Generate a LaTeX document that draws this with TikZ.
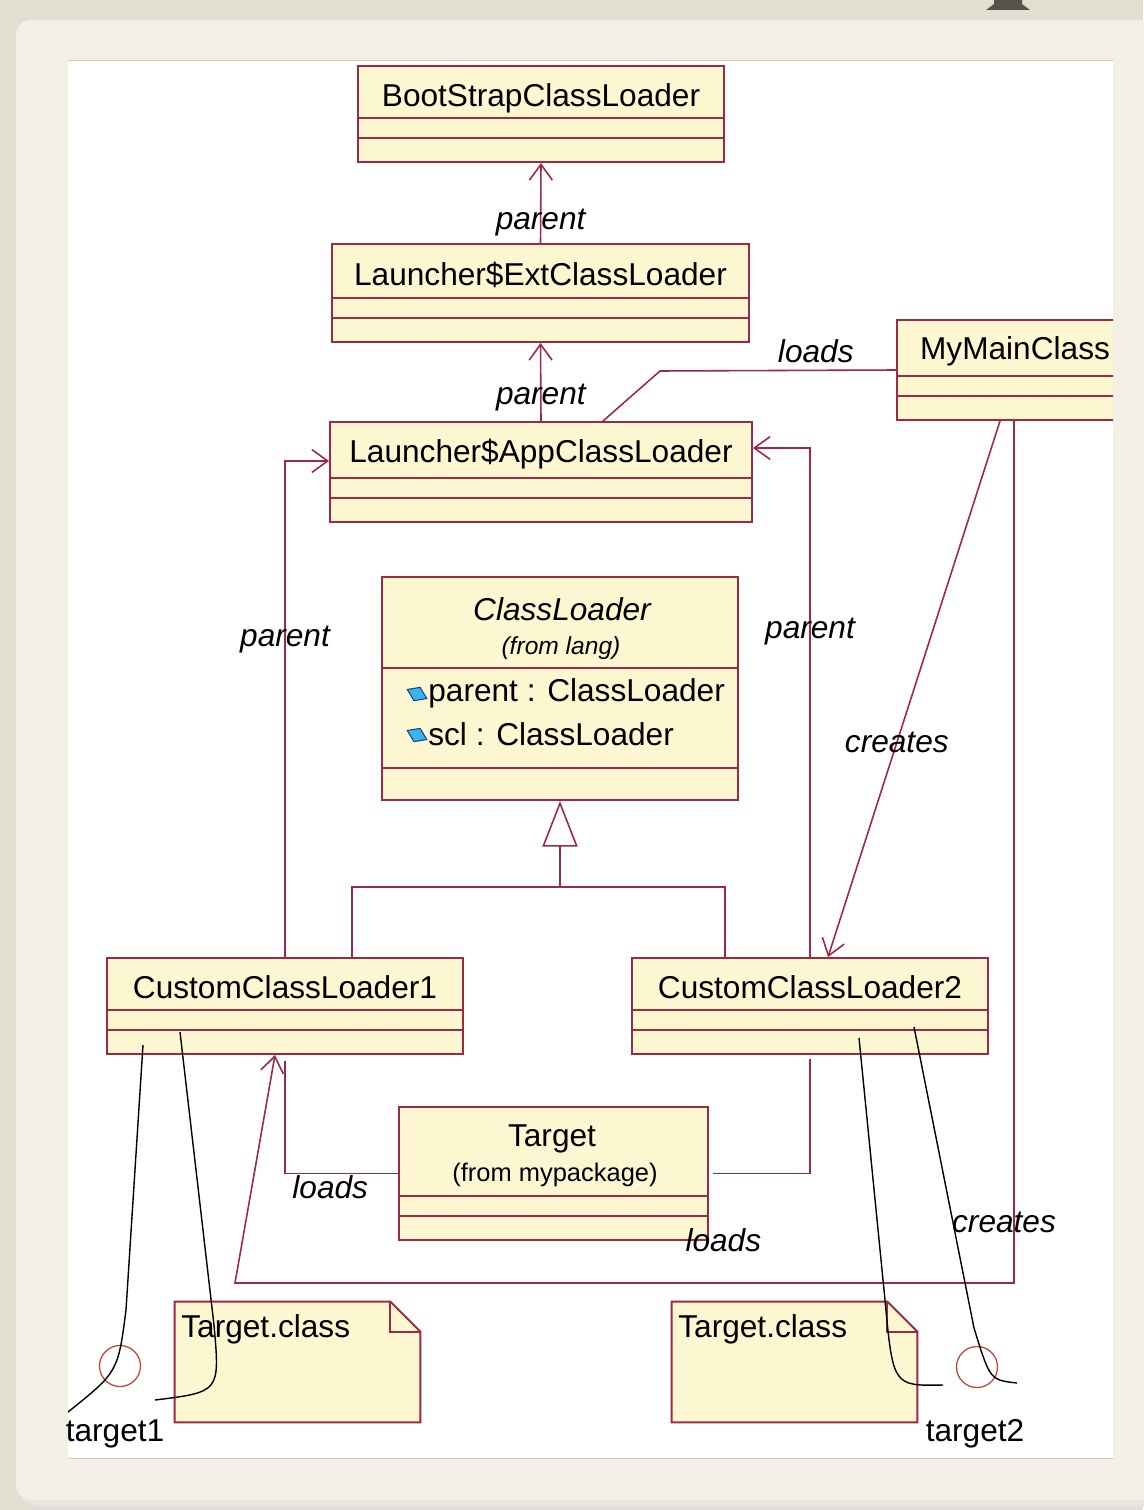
\documentclass[tikz,border=0pt]{standalone}
\usepackage{fontspec}
\setmainfont{Liberation Sans}
\usepackage{tikz}
\usetikzlibrary{shapes.geometric, arrows.meta, positioning, fit, calc}
\definecolor{umlred}{HTML}{9C2A45}
\definecolor{umlfill}{HTML}{FCF7D0}
\definecolor{paperbg}{HTML}{E2DED1}
\definecolor{paperpanel}{HTML}{F1EFE6}
\definecolor{iconblue}{HTML}{3AB4EE}
\definecolor{icondark}{HTML}{1C3F8C}
\definecolor{inkgray}{HTML}{57524C}

% two empty compartments above the bottom of a class box
\newcommand{\compart}[1]{%
  \draw[umlline] ($(#1.south west)+(0,-25)$) -- ($(#1.south east)+(0,-25)$);
  \draw[umlline] ($(#1.south west)+(0,-45)$) -- ($(#1.south east)+(0,-45)$);}

\begin{document}
\begin{tikzpicture}[x=0.02cm, y=-0.02cm,
  umlclass/.style={draw=umlred, fill=umlfill, line width=1.1pt, inner sep=0pt},
  umlline/.style={draw=umlred, line width=1.1pt},
  classname/.style={font=\fontsize{18}{20}\selectfont, inner sep=0pt},
  absname/.style={font=\fontsize{18}{20}\selectfont\itshape, inner sep=0pt},
  attr/.style={font=\fontsize{18}{20}\selectfont, inner sep=0pt, anchor=west},
  pkg/.style={font=\fontsize{14}{16}\selectfont\itshape, inner sep=0pt},
  pkgup/.style={font=\fontsize{14.5}{16}\selectfont, inner sep=0pt},
  assoc/.style={draw=umlred, line width=0.9pt, -{Straight Barb[length=9pt,width=13pt]}},
  plain/.style={draw=umlred, line width=0.9pt},
  tag/.style={font=\fontsize{18}{20}\selectfont\itshape, inner sep=1pt},
  objlink/.style={draw=black, line width=0.8pt},
  notebox/.style={inner sep=0pt},
  objcircle/.style={circle, draw=umlred!70!orange, line width=0.7pt, minimum size=0.82cm, inner sep=0pt},
  icon/.style={diamond, draw=icondark, fill=iconblue, line width=0.6pt,
               minimum width=0.44cm, minimum height=0.3cm, inner sep=0pt, rotate=-25},
]
\useasboundingbox (0,0) rectangle (1143,1510);

% paper background
\fill[paperbg] (0,0) rectangle (1143,1510);
\fill[black!10, rounded corners=0.3cm] (20,26) rectangle (1170,1506);
\fill[paperpanel, rounded corners=0.3cm] (16,20) rectangle (1170,1500);
\fill[inkgray] (994,0) -- (1022,0) -- (1022,4) -- (1030,10) -- (986,10) -- (994,4) -- cycle;
\fill[white] (68,60) rectangle (1113,1458);
\draw[black!20, line width=0.4pt] (68,60) -- (1113,60) (68,1458) -- (1113,1458);

% classes
\node[umlclass, fit={(358,66) (724,162)}] (boot) {};
\node[classname] (bootname) at ([yshift=-0.66cm]boot.north) {BootStrapClassLoader};
\compart{boot}

\node[umlclass, fit={(332,244) (749,342)}] (ext) {};
\node[classname] (extname) at ([yshift=-0.64cm]ext.north) {Launcher\$ExtClassLoader};
\compart{ext}

\node[umlclass, fit={(330,422) (752,522)}] (app) {};
\node[classname] (appname) at ([yshift=-0.66cm]app.north) {Launcher\$AppClassLoader};
\compart{app}

\begin{scope}
  \clip (68,60) rectangle (1113,1458);
  \node[umlclass, fit={(897,320) (1133,420)}] (mymain) {};
  \node[classname] (mymainname) at ([yshift=-0.64cm]mymain.north) {MyMainClass};
  \compart{mymain}
\end{scope}

\node[umlclass, fit={(382,577) (738,800)}] (classloader) {};
\node[absname] (clname) at (562,609) {ClassLoader};
\node[pkg] (clpkg) at (561,648) {(from lang)};
\draw[umlline] ($(classloader.south west)+(0,-133)$) -- ($(classloader.south east)+(0,-133)$);
\draw[umlline] ($(classloader.south west)+(0,-33)$) -- ($(classloader.south east)+(0,-33)$);
\node[icon] (icon1) at (417,694) {};
\node[attr] (attr1) at (428,693) {parent : ClassLoader};
\node[icon] (icon2) at (417,735) {};
\node[attr] (attr2) at (428,734) {scl : ClassLoader};

\node[umlclass, fit={(107,958) (463,1054)}] (ccl1) {};
\node[classname] (ccl1name) at ([yshift=-0.6cm]ccl1.north) {CustomClassLoader1};
\compart{ccl1}

\node[umlclass, fit={(632,958) (988,1054)}] (ccl2) {};
\node[classname] (ccl2name) at ([yshift=-0.6cm]ccl2.north) {CustomClassLoader2};
\compart{ccl2}

\node[umlclass, fit={(399,1107) (708,1240)}] (target) {};
\node[classname] (targetname) at (552,1139) {Target};
\node[pkgup] (targetpkg) at (555,1175) {(from mypackage)};
\compart{target}

% notes
\node[notebox, fit={(175,1302) (420,1422)}] (note1) {};
\draw[umlline, fill=umlfill] (note1.north west) -- ([xshift=-0.6cm]note1.north east)
  -- ([yshift=-0.6cm]note1.north east) -- (note1.south east) -- (note1.south west) -- cycle;
\draw[umlline] ([xshift=-0.6cm]note1.north east) -- ([xshift=-0.6cm,yshift=-0.6cm]note1.north east)
  -- ([yshift=-0.6cm]note1.north east);
\node[attr] (note1txt) at (181,1329) {Target.class};

\node[notebox, fit={(672,1302) (917,1422)}] (note2) {};
\draw[umlline, fill=umlfill] (note2.north west) -- ([xshift=-0.6cm]note2.north east)
  -- ([yshift=-0.6cm]note2.north east) -- (note2.south east) -- (note2.south west) -- cycle;
\draw[umlline] ([xshift=-0.6cm]note2.north east) -- ([xshift=-0.6cm,yshift=-0.6cm]note2.north east)
  -- ([yshift=-0.6cm]note2.north east);
\node[attr] (note2txt) at (678,1329) {Target.class};

% objects
\node[objcircle] (t1) at (120,1366) {};
\node[classname] (t1name) at (115,1434) {target1};
\node[objcircle] (t2) at (977,1367) {};
\node[classname] (t2name) at (975,1434) {target2};

% parent links
\draw[assoc] (ext.north) -- (boot.south) node[tag, pos=0.25] {parent};
\draw[assoc] (app.north) -- (ext.south) node[tag, pos=0.3] {parent};
\draw[assoc] (ccl1.north) |- ([yshift=0.22cm]app.west) node[tag, pos=0.32] {parent};
\draw[assoc] (ccl2.north) |- ([yshift=0.48cm]app.east) node[tag, pos=0.32] {parent};

% generalization
\coordinate (genbar) at (560,887);
\draw[plain] ([xshift=1.34cm]ccl1.north) |- (genbar);
\draw[plain] ([xshift=-1.7cm]ccl2.north) |- (genbar);
\draw[plain, -{Triangle[open, length=26pt, width=20pt]}] (genbar) -- (classloader.south);

% loads and creates
\coordinate (ldbend) at (660,371);
\draw[plain] (mymain.west) -- (ldbend) node[tag, above, pos=0.34, yshift=0.1cm] {loads}
  -- ([xshift=1.24cm]app.north);
\draw[assoc] ([xshift=-0.3cm]mymain.south) -- ([xshift=0.36cm]ccl2.north)
  node[tag, pos=0.6] {creates};
\coordinate (cr1) at (1014,1283);
\coordinate (cr2) at (235,1283);
\draw[assoc] ([xshift=-0.02cm]mymain.south) -- (cr1) node[tag, pos=0.93, xshift=-0.2cm] {creates}
  -- (cr2) -- ([xshift=-0.2cm]ccl1.south);
\draw[plain] ([yshift=-0.12cm]ccl1.south) |- (target.west) node[tag, below, pos=0.7] {loads};
\draw[plain] ([yshift=-0.08cm]ccl2.south) |- ([xshift=0.08cm]target.east)
  node[tag, pos=1, anchor=north west, xshift=-0.6cm, yshift=-1.05cm] {loads};

% object links
\coordinate (a1) at (143,1045);
\coordinate (a2) at (68,1412);
\coordinate (b1) at (180,1032);
\coordinate (b2) at (155,1400);
\coordinate (c1) at (859,1038);
\coordinate (c2) at (943,1385);
\coordinate (d1) at (914,1027);
\coordinate (d2) at (1017,1383);
\draw[objlink] (a1) -- (126,1310) .. controls (118,1372) .. (a2);
\draw[objlink] (b1) -- (214,1325) .. controls (220,1392) .. (b2);
\draw[objlink] (c1) -- (885,1300) .. controls (893,1386) .. (c2);
\draw[objlink] (d1) -- (974,1328) .. controls (990,1380) .. (d2);
\end{tikzpicture}
\end{document}
